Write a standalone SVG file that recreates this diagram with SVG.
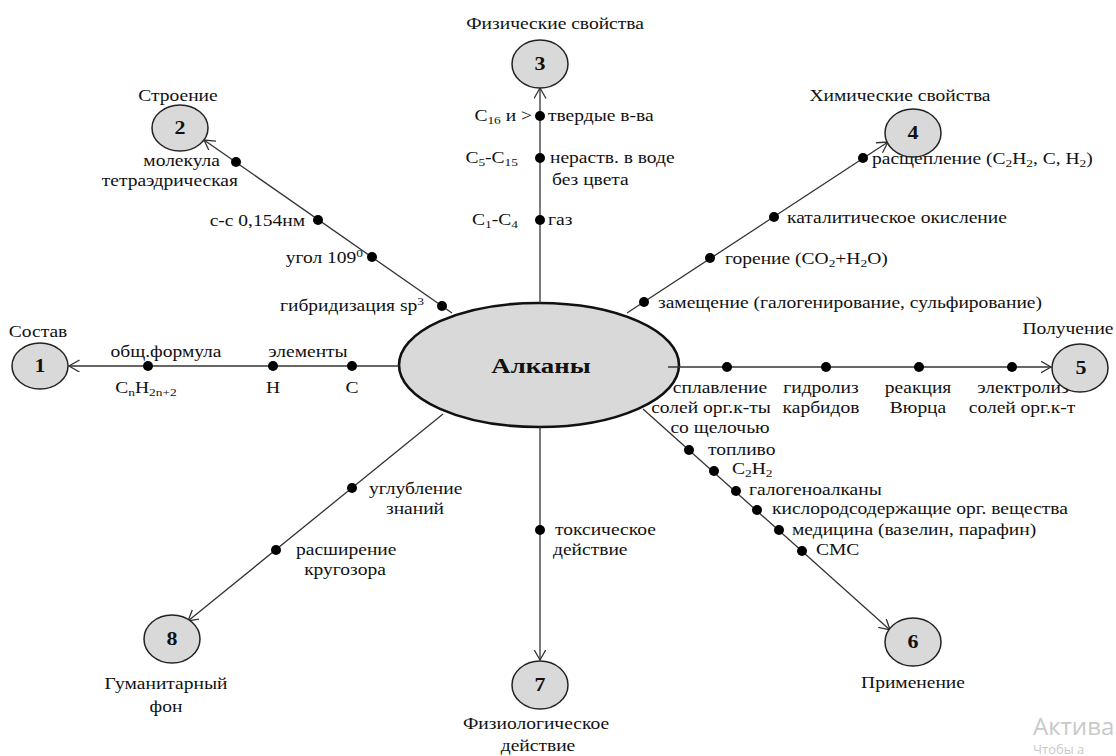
<svg xmlns="http://www.w3.org/2000/svg" width="1116" height="756" viewBox="0 0 1116 756">
<style>
.t{font-family:"Liberation Serif","Times New Roman",serif;font-size:16px;fill:#111}
.m{text-anchor:middle}
.e{text-anchor:end}
.big{font-family:"Liberation Serif","Times New Roman",serif;font-size:22px;font-weight:bold;fill:#111;text-anchor:middle}
.num{font-family:"Liberation Serif","Times New Roman",serif;font-size:18px;font-weight:bold;fill:#111;text-anchor:middle}
.node{fill:#d9d9d9;stroke:#222;stroke-width:1.5}
.ln{stroke:#333;stroke-width:1.3;fill:none}
.dot{fill:#000}
.wm{font-family:"Open Sans","Noto Sans",sans-serif;fill:#c9c9c9}
</style>
<defs>
<marker id="arr" markerUnits="userSpaceOnUse" markerWidth="14" markerHeight="14" refX="10.5" refY="6" orient="auto" viewBox="0 0 14 14">
<path d="M0,0 L10.5,6 L0,12" fill="none" stroke="#333" stroke-width="1.3"/>
</marker>
</defs>
<rect width="1116" height="756" fill="#fff"/>

<g id="center">
<ellipse cx="539" cy="365" rx="140" ry="62" fill="#d9d9d9" stroke="#111" stroke-width="2.6"/>
<text class="big" transform="translate(541,373) scale(1.22,1)">Алканы</text>
</g>

<g id="connectors">
<line class="ln" x1="399" y1="366" x2="69" y2="366" marker-end="url(#arr)"/>
<line class="ln" x1="452" y1="313" x2="204" y2="140" marker-end="url(#arr)"/>
<line class="ln" x1="540" y1="303" x2="540" y2="88" marker-end="url(#arr)"/>
<line class="ln" x1="627" y1="313" x2="888" y2="142" marker-end="url(#arr)"/>
<line class="ln" x1="668" y1="367" x2="1051" y2="367" marker-end="url(#arr)"/>
<line class="ln" x1="643" y1="409" x2="890" y2="630" marker-end="url(#arr)"/>
<line class="ln" x1="540" y1="427" x2="540" y2="660" marker-end="url(#arr)"/>
<line class="ln" x1="443" y1="414" x2="188" y2="621" marker-end="url(#arr)"/>
<g id="dots">
<circle class="dot" cx="148" cy="366" r="5"/>
<circle class="dot" cx="273" cy="366" r="5"/>
<circle class="dot" cx="352" cy="366" r="5"/>
<circle class="dot" cx="236" cy="162" r="5"/>
<circle class="dot" cx="318" cy="220" r="5"/>
<circle class="dot" cx="372" cy="257" r="5"/>
<circle class="dot" cx="442" cy="306" r="5"/>
<circle class="dot" cx="540" cy="116" r="5"/>
<circle class="dot" cx="540" cy="158" r="5"/>
<circle class="dot" cx="540" cy="220" r="5"/>
<circle class="dot" cx="863" cy="158" r="5"/>
<circle class="dot" cx="774" cy="217" r="5"/>
<circle class="dot" cx="710" cy="258" r="5"/>
<circle class="dot" cx="644" cy="302" r="5"/>
<circle class="dot" cx="727" cy="367" r="5"/>
<circle class="dot" cx="826" cy="367" r="5"/>
<circle class="dot" cx="919" cy="367" r="5"/>
<circle class="dot" cx="1012" cy="367" r="5"/>
<circle class="dot" cx="689" cy="450" r="5"/>
<circle class="dot" cx="714" cy="471" r="5"/>
<circle class="dot" cx="736" cy="491" r="5"/>
<circle class="dot" cx="757" cy="510" r="5"/>
<circle class="dot" cx="779" cy="530" r="5"/>
<circle class="dot" cx="802" cy="551" r="5"/>
<circle class="dot" cx="540" cy="530" r="5"/>
<circle class="dot" cx="352" cy="488" r="5"/>
<circle class="dot" cx="276" cy="550" r="5"/>
</g>
<g id="connector-labels">
<text class="t m" transform="translate(166,357) scale(1.22,1)">общ.формула</text>
<text class="t m" transform="translate(308,357) scale(1.22,1)">элементы</text>
<text class="t m" transform="translate(146,393) scale(1.22,1)">C<tspan font-size="11" dy="3">n</tspan><tspan dy="-3">H</tspan><tspan font-size="11" dy="3">2n+2</tspan></text>
<text class="t m" transform="translate(273,393) scale(1.22,1)">H</text>
<text class="t m" transform="translate(352,393) scale(1.22,1)">C</text>

<text class="t e" transform="translate(220,166) scale(1.22,1)">молекула</text>
<text class="t e" transform="translate(238,186) scale(1.22,1)">тетраэдрическая</text>
<text class="t e" transform="translate(305,226) scale(1.22,1)">с-с 0,154нм</text>
<text class="t e" transform="translate(363,263) scale(1.22,1)">угол 109<tspan font-size="11" dy="-6">0</tspan></text>
<text class="t e" transform="translate(424,311) scale(1.22,1)">гибридизация sp<tspan font-size="11" dy="-6">3</tspan></text>

<text class="t e" transform="translate(532,121) scale(1.22,1)">C<tspan font-size="11" dy="3">16</tspan><tspan dy="-3"> и &gt;</tspan></text>
<text class="t" transform="translate(548,121) scale(1.22,1)">твердые в-ва</text>
<text class="t e" transform="translate(518,163) scale(1.22,1)">C<tspan font-size="11" dy="3">5</tspan><tspan dy="-3">-C</tspan><tspan font-size="11" dy="3">15</tspan></text>
<text class="t" transform="translate(550,163) scale(1.22,1)">нераств. в воде</text>
<text class="t" transform="translate(552,185) scale(1.22,1)">без цвета</text>
<text class="t e" transform="translate(518,225) scale(1.22,1)">C<tspan font-size="11" dy="3">1</tspan><tspan dy="-3">-C</tspan><tspan font-size="11" dy="3">4</tspan></text>
<text class="t" transform="translate(548,225) scale(1.22,1)">газ</text>

<text class="t" transform="translate(872,164) scale(1.22,1)">расщепление (C<tspan font-size="11" dy="3">2</tspan><tspan dy="-3">H</tspan><tspan font-size="11" dy="3">2</tspan><tspan dy="-3">, C, H</tspan><tspan font-size="11" dy="3">2</tspan><tspan dy="-3">)</tspan></text>
<text class="t" transform="translate(787,223) scale(1.22,1)">каталитическое окисление</text>
<text class="t" transform="translate(725,264) scale(1.22,1)">горение (CO<tspan font-size="11" dy="3">2</tspan><tspan dy="-3">+H</tspan><tspan font-size="11" dy="3">2</tspan><tspan dy="-3">O)</tspan></text>
<text class="t" transform="translate(658,308) scale(1.22,1)">замещение (галогенирование, сульфирование)</text>

<text class="t m" transform="translate(720,393) scale(1.22,1)">сплавление</text>
<text class="t m" transform="translate(711,413) scale(1.22,1)">солей орг.к-ты</text>
<text class="t m" transform="translate(720,433) scale(1.22,1)">со щелочью</text>
<text class="t m" transform="translate(821,393) scale(1.22,1)">гидролиз</text>
<text class="t m" transform="translate(821,413) scale(1.22,1)">карбидов</text>
<text class="t m" transform="translate(918,393) scale(1.22,1)">реакция</text>
<text class="t m" transform="translate(918,413) scale(1.22,1)">Вюрца</text>
<text class="t m" transform="translate(1023,393) scale(1.22,1)">электролиз</text>
<text class="t m" transform="translate(1022,413) scale(1.22,1)">солей орг.к-т</text>

<text class="t" transform="translate(708,455) scale(1.22,1)">топливо</text>
<text class="t" transform="translate(732,474) scale(1.22,1)">C<tspan font-size="11" dy="3">2</tspan><tspan dy="-3">H</tspan><tspan font-size="11" dy="3">2</tspan></text>
<text class="t" transform="translate(749,495) scale(1.22,1)">галогеноалканы</text>
<text class="t" transform="translate(772,514) scale(1.22,1)">кислородсодержащие орг. вещества</text>
<text class="t" transform="translate(792,535) scale(1.22,1)">медицина (вазелин, парафин)</text>
<text class="t" transform="translate(816,555) scale(1.22,1)">СМС</text>

<text class="t" transform="translate(555,535) scale(1.22,1)">токсическое</text>
<text class="t" transform="translate(553,555) scale(1.22,1)">действие</text>

<text class="t" transform="translate(369,494) scale(1.22,1)">углубление</text>
<text class="t m" transform="translate(415,514) scale(1.22,1)">знаний</text>
<text class="t" transform="translate(296,555) scale(1.22,1)">расширение</text>
<text class="t m" transform="translate(345,575) scale(1.22,1)">кругозора</text>
</g>
</g>

<g id="node1">
<ellipse class="node" cx="40" cy="366" rx="28" ry="23"/>
<text class="num" transform="translate(40,372) scale(1.22,1)">1</text>
<text class="t m" transform="translate(38,337) scale(1.22,1)">Состав</text>
</g>
<g id="node2">
<ellipse class="node" cx="180" cy="128" rx="28" ry="23"/>
<text class="num" transform="translate(180,134) scale(1.22,1)">2</text>
<text class="t m" transform="translate(178,101) scale(1.22,1)">Строение</text>
</g>
<g id="node3">
<ellipse class="node" cx="540" cy="64" rx="28" ry="24"/>
<text class="num" transform="translate(540,70) scale(1.22,1)">3</text>
<text class="t m" transform="translate(555,29) scale(1.22,1)">Физические свойства</text>
</g>
<g id="node4">
<ellipse class="node" cx="913" cy="133" rx="28" ry="24"/>
<text class="num" transform="translate(913,139) scale(1.22,1)">4</text>
<text class="t m" transform="translate(900,101) scale(1.22,1)">Химические свойства</text>
</g>
<g id="node5">
<ellipse class="node" cx="1080" cy="368" rx="28" ry="24"/>
<text class="num" transform="translate(1081,374) scale(1.22,1)">5</text>
<text class="t m" transform="translate(1068,334) scale(1.22,1)">Получение</text>
</g>
<g id="node6">
<ellipse class="node" cx="913" cy="642" rx="28" ry="24"/>
<text class="num" transform="translate(913,648) scale(1.22,1)">6</text>
<text class="t m" transform="translate(913,688) scale(1.22,1)">Применение</text>
</g>
<g id="node7">
<ellipse class="node" cx="540" cy="685" rx="28" ry="24"/>
<text class="num" transform="translate(540,691) scale(1.22,1)">7</text>
<text class="t m" transform="translate(536,729) scale(1.22,1)">Физиологическое</text>
<text class="t m" transform="translate(538,751) scale(1.22,1)">действие</text>
</g>
<g id="node8">
<ellipse class="node" cx="172" cy="639" rx="28" ry="24"/>
<text class="num" transform="translate(172,645) scale(1.22,1)">8</text>
<text class="t m" transform="translate(166,689) scale(1.22,1)">Гуманитарный</text>
<text class="t m" transform="translate(166,712) scale(1.22,1)">фон</text>
</g>

<g id="watermark">
<text class="wm" x="1033" y="735" style="font-size:24px">Актива</text>
<text class="wm" x="1033" y="754" style="font-size:13px">Чтобы а</text>
</g>
</svg>
